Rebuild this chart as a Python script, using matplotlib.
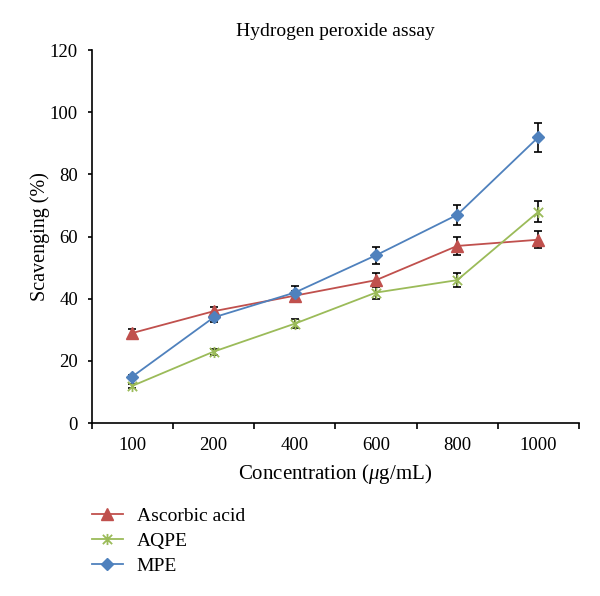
import numpy as np
import matplotlib.pyplot as plt
from matplotlib.path import Path

plt.rcParams['font.family'] = ['Liberation Serif', 'DejaVu Serif']
plt.rcParams['mathtext.fontset'] = 'custom'
plt.rcParams['mathtext.it'] = 'Liberation Serif:italic'
plt.rcParams['mathtext.rm'] = 'Liberation Serif'

concentrations = ['100', '200', '400', '600', '800', '1000']
ascorbic = [29, 36, 41, 46, 57, 59]
ascorbic_err = [1.2, 1.5, 1.5, 2.2, 2.8, 2.8]
aqpe = [12, 23, 32, 42, 46, 68]
aqpe_err = [0.6, 1.0, 1.5, 2.0, 2.2, 3.4]
mpe = [15, 34, 42, 54, 67, 92]
mpe_err = [0.6, 1.5, 2.0, 2.7, 3.3, 4.7]

x = np.arange(len(concentrations))

# excel-style star marker: an x with a vertical bar through it
star = Path([(-1, -1), (1, 1), (-1, 1), (1, -1), (0, -1.2), (0, 1.2)],
            [Path.MOVETO, Path.LINETO, Path.MOVETO, Path.LINETO, Path.MOVETO, Path.LINETO])

fig = plt.figure(figsize=(6, 5.96), dpi=100)
ax = fig.add_axes([0.153, 0.290, 0.812, 0.626])

ekw = dict(ecolor='black', elinewidth=1.2, capsize=3, capthick=1.2, zorder=2)
ax.errorbar(x, ascorbic, yerr=ascorbic_err, fmt='none', **ekw)
ax.errorbar(x, aqpe, yerr=aqpe_err, fmt='none', **ekw)
ax.errorbar(x, mpe, yerr=mpe_err, fmt='none', **ekw)

h1, = ax.plot(x, ascorbic, color='#C0504D', marker='^', markersize=8, lw=1.3, label='Ascorbic acid', zorder=3)
h2, = ax.plot(x, aqpe, color='#9BBB59', marker=star, markersize=8, mew=1.3, mfc='none', lw=1.3, label='AQPE', zorder=3)
h3, = ax.plot(x, mpe, color='#4F81BD', marker='D', markersize=6.5, lw=1.3, label='MPE', zorder=3)

ax.set_xlim(-0.5, len(x) - 0.5)
ax.set_ylim(0, 120)
ax.set_yticks(np.arange(0, 121, 20))
ax.set_xticks(np.arange(-0.5, len(x), 1.0))
ax.set_xticklabels([])
ax.set_xticks(x, minor=True)
ax.set_xticklabels(concentrations, minor=True)
ax.tick_params(axis='x', which='minor', length=0, labelsize=13.5, pad=10)
ax.tick_params(axis='x', which='major', direction='out', length=4, width=1.2)
ax.tick_params(axis='y', direction='out', length=3, width=1.2, labelsize=13.5, pad=7)
for s in ['top', 'right']:
    ax.spines[s].set_visible(False)
for s in ['left', 'bottom']:
    ax.spines[s].set_linewidth(1.2)

ax.set_title('Hydrogen peroxide assay', fontsize=14, pad=10)
ax.set_ylabel('Scavenging (%)', fontsize=14.5, labelpad=0)
ax.set_xlabel(r'Concentration ($\mu$g/mL)', fontsize=15, labelpad=6)

fig.legend(handles=[h1, h2, h3], loc='upper left', bbox_to_anchor=(0.153, 0.149),
           frameon=False, fontsize=14, handlelength=1.6, labelspacing=0.38,
           handletextpad=0.7, borderpad=0, borderaxespad=0)

plt.savefig('out.png', dpi=100)
